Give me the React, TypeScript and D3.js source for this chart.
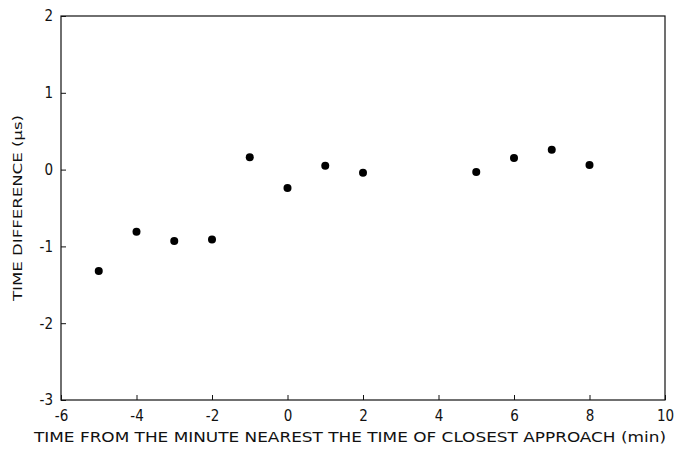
import React, { useEffect, useRef } from "react";
import * as d3 from "d3";

const minutes = [-5, -4, -3, -2, -1, 0, 1, 2, 5, 6, 7, 8];
const timeDiff = [-1.32, -0.81, -0.93, -0.91, 0.16, -0.24, 0.05, -0.04, -0.03, 0.15, 0.26, 0.06];
const xTicks = [-6, -4, -2, 0, 2, 4, 6, 8, 10];
const yTicks = [-3, -2, -1, 0, 1, 2];

const W = 677;
const H = 449;
const margin = { top: 16, right: 12, bottom: 49, left: 61 };
const font = "'DejaVu Sans Condensed', 'DejaVu Sans', sans-serif";

const App = () => {
  const ref = useRef(null);

  useEffect(() => {
    const svg = d3.select(ref.current);
    svg.selectAll("*").remove();

    const x = d3.scaleLinear().domain([-6, 10]).range([margin.left, W - margin.right]);
    const y = d3.scaleLinear().domain([-3, 2]).range([H - margin.bottom, margin.top]);

    // frame
    svg
      .append("rect")
      .attr("x", x(-6))
      .attr("y", y(2))
      .attr("width", x(10) - x(-6))
      .attr("height", y(-3) - y(2))
      .attr("fill", "none")
      .attr("stroke", "#111")
      .attr("stroke-width", 1.2);

    // bottom axis, ticks inward
    const xAxis = svg
      .append("g")
      .attr("transform", `translate(0,${y(-3)})`)
      .call(d3.axisBottom(x).tickValues(xTicks).tickSize(-5).tickPadding(10).tickFormat(d3.format("d")));
    xAxis.select(".domain").remove();
    xAxis.selectAll("line").attr("stroke", "#111");
    xAxis
      .selectAll("text")
      .attr("font-family", font)
      .attr("font-size", 15)
      .attr("fill", "#111")
      .text(d => (d < 0 ? "-" + Math.abs(d) : String(d)));

    // left axis, ticks inward
    const yAxis = svg
      .append("g")
      .attr("transform", `translate(${x(-6)},0)`)
      .call(d3.axisLeft(y).tickValues(yTicks).tickSize(-5).tickPadding(8).tickFormat(d3.format("d")));
    yAxis.select(".domain").remove();
    yAxis.selectAll("line").attr("stroke", "#111");
    yAxis
      .selectAll("text")
      .attr("font-family", font)
      .attr("font-size", 15)
      .attr("fill", "#111")
      .text(d => (d < 0 ? "-" + Math.abs(d) : String(d)));

    // points
    svg
      .append("g")
      .selectAll("circle")
      .data(minutes)
      .join("circle")
      .attr("cx", d => x(d))
      .attr("cy", (d, i) => y(timeDiff[i]))
      .attr("r", 4)
      .attr("fill", "#000");

    // titles
    svg
      .append("text")
      .attr("x", 350)
      .attr("y", 442)
      .attr("text-anchor", "middle")
      .attr("font-family", font)
      .attr("font-size", 14)
      .attr("textLength", 632)
      .attr("lengthAdjust", "spacingAndGlyphs")
      .attr("fill", "#111")
      .text("TIME FROM THE MINUTE NEAREST THE TIME OF CLOSEST APPROACH (min)");

    svg
      .append("text")
      .attr("transform", `translate(22,208) rotate(-90)`)
      .attr("text-anchor", "middle")
      .attr("font-family", font)
      .attr("font-size", 13)
      .attr("textLength", 186)
      .attr("lengthAdjust", "spacingAndGlyphs")
      .attr("fill", "#111")
      .text("TIME DIFFERENCE (\u03bcs)");
  }, []);

  return (
    <svg
      ref={ref}
      width={W}
      height={H}
      style={{ position: "absolute", left: 0, top: 0, background: "#fff" }}
    />
  );
};

export default App;
